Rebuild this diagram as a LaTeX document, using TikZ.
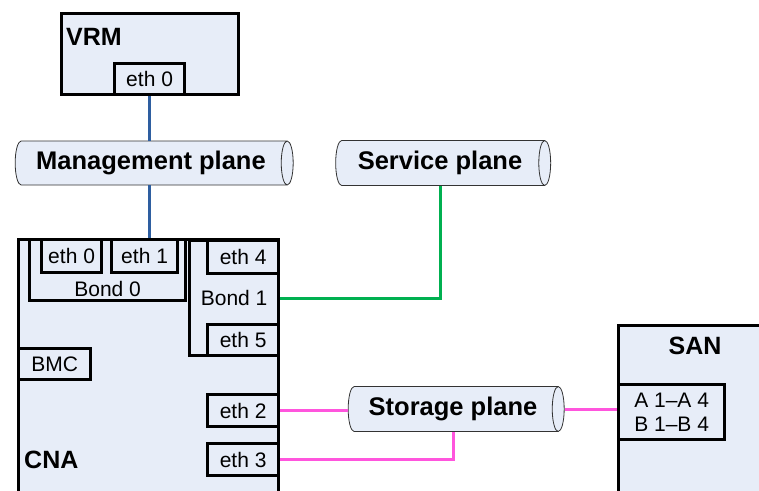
\documentclass[tikz,border=0pt]{standalone}
\usepackage{fontspec}
\setmainfont{Liberation Sans}
\usetikzlibrary{shapes.geometric}
\definecolor{boxfill}{RGB}{231,237,248}
\definecolor{mgmtblue}{RGB}{46,94,160}
\definecolor{servgreen}{RGB}{0,176,80}
\definecolor{storpink}{RGB}{255,85,221}
\begin{document}
\begin{tikzpicture}[x=1pt,y=-1pt,
  box/.style={draw,line width=3.2pt,fill=boxfill,inner sep=0pt,anchor=north west},
  port/.style={box,font=\fontsize{21}{24}\selectfont},
  title/.style={font=\fontsize{25}{30}\selectfont\bfseries,inner sep=0pt},
  plane/.style={cylinder,draw=black!80,line width=0.8pt,fill=boxfill,aspect=0.5,
    inner sep=0pt,font=\fontsize{25.5}{30}\selectfont\bfseries},
  link/.style={line width=3pt}]

  \useasboundingbox (0,0) rectangle (759,490);
  \clip (0,0) rectangle (759,490);

  % VRM
  \node[box,minimum width=177pt,minimum height=81pt] (vrm) at (60,12) {};
  \node[title,anchor=west] at (66,37) {VRM};
  \node[port,minimum width=70pt,minimum height=31pt] (vrmeth) at (113,62) {eth 0};

  % planes (cylinder: height runs along the axis)
  \node[plane,minimum height=278pt,minimum width=44pt] (mgmt) at (151,163) {Management plane};
  \node[plane,minimum height=215pt,minimum width=45pt] (serv) at (440,163) {Service plane};
  \node[plane,minimum height=216pt,minimum width=45pt] (stor) at (453,409) {Storage plane};

  % CNA and its ports
  \node[box,minimum width=260pt,minimum height=290pt] (cna) at (17,238) {};
  \node[title,anchor=west] at (24,460) {CNA};
  \node[box,minimum width=156pt,minimum height=61pt] (bondzero) at (28,238) {};
  \node[font=\fontsize{21}{24}\selectfont,anchor=south,inner sep=5pt] at (bondzero.south) {Bond 0};
  \node[port,minimum width=60pt,minimum height=33pt] (ethzero) at (40,238) {eth 0};
  \node[port,minimum width=66pt,minimum height=33pt] (ethone) at (110,238) {eth 1};
  \node[port,minimum width=89pt,minimum height=115pt] (bondone) at (188,239) {Bond 1};
  \node[port,minimum width=71pt,minimum height=33pt] (ethfour) at (206,239) {eth 4};
  \node[port,minimum width=71pt,minimum height=31pt] (ethfive) at (206,323) {eth 5};
  \node[port,minimum width=72pt,minimum height=31pt] (bmc) at (17,347) {BMC};
  \node[port,minimum width=71pt,minimum height=32pt] (ethtwo) at (206,393) {eth 2};
  \node[port,minimum width=71pt,minimum height=32pt] (eththree) at (206,442) {eth 3};

  % SAN
  \node[box,minimum width=190pt,minimum height=200pt] (san) at (617,324) {};
  \node[title] at (695,346) {SAN};
  \node[port,minimum width=106pt,minimum height=55pt,align=left] (sanports) at (617,383)
    {A 1--A 4\\B 1--B 4};

  % links
  \draw[link,mgmtblue] (vrmeth.south) -- (vrmeth.south |- mgmt.north);
  \draw[link,mgmtblue] (vrmeth.south |- mgmt.south) -- (vrmeth.south |- cna.north);
  \draw[link,servgreen] (bondone.east) -| (serv.south);
  \draw[link,storpink] (ethtwo.east) -- (ethtwo.east -| stor.west);
  \draw[link,storpink] (eththree.east) -| (stor.south);
  \draw[link,storpink] (stor.east) -- (stor.east -| san.west);
\end{tikzpicture}
\end{document}
